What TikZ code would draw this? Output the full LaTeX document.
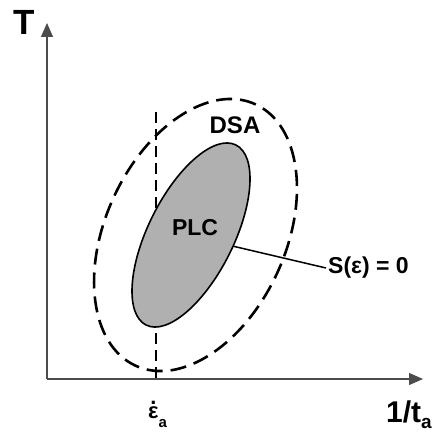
\documentclass[tikz,border=0pt]{standalone}
\usepackage{fontspec}
\setmainfont{Liberation Sans}
\usepackage{xcolor}
\usepackage{tikz}
\usetikzlibrary{calc, arrows.meta, positioning}

\definecolor{plcgray}{RGB}{176,176,176}
\newcommand{\epsdot}{{\ooalign{ε\cr\hidewidth\raisebox{0.62em}{.}\hidewidth\cr}}}
\newcommand{\lowsub}[2]{\raisebox{#1}{\fontsize{#2}{#2}\selectfont a}}

\begin{document}
\begin{tikzpicture}[>={Triangle[width=12pt,length=14pt]},
    axis/.style={draw=black!70, line width=1.3pt},
    dsaline/.style={line width=2.6pt, dash pattern=on 16pt off 8pt},
    rateline/.style={line width=2.6pt, dash pattern=on 11pt off 6pt},
    lbl/.style={font=\bfseries\fontsize{23}{23}\selectfont}]
    % Cadre de l'image
    \useasboundingbox (0,0) rectangle (438pt,432pt);
    \begin{scope}[x=1pt, y=1pt]
    % Axes
    \coordinate (O) at (47,53);
    \coordinate (ytop) at (47,409);
    \coordinate (xend) at (423,53);
    \draw[axis, ->] (O) -- (ytop);
    \draw[axis, ->] (O) -- (xend);
    \node[font=\bfseries\fontsize{35}{35}\selectfont] (T) at (24,410) {T};
    \node[font=\bfseries\fontsize{30}{30}\selectfont, anchor=base west, inner sep=0pt] (ta) at (386,10) {1/t\lowsub{-0.2em}{19}};
    \node[font=\bfseries\fontsize{22}{22}\selectfont, anchor=base west, inner sep=0pt] (epsa) at (148,14) {\epsdot\lowsub{-0.42em}{15}};
    % Ligne verticale en pointillés
    \coordinate (ratetop) at (156,320);
    \coordinate (ratebot) at (156,53);
    \draw[rateline] (ratetop) -- (ratebot);
    % Domaine PLC (rempli) et domaine DSA (pointillés)
    \coordinate (plc) at (191,197);
    \coordinate (dsa) at (195.5,197);
    \draw[fill=plcgray, line width=1.6pt, rotate around={63.5:(plc)}] (plc) ellipse [x radius=100.6, y radius=42.8];
    \draw[dsaline, rotate around={65.4:(dsa)}] (dsa) ellipse [x radius=143.8, y radius=90.1];
    \path[rotate around={63.5:(plc)}] (plc) ++(-85:100.6pt and 42.8pt) coordinate (sedge);
    % Étiquettes
    \node[font=\bfseries\fontsize{24}{24}\selectfont] (dsalbl) at (235,307) {DSA};
    \node[lbl] (plclbl) at (195,204) {PLC};
    \node[lbl, anchor=west, inner sep=2pt] (slbl) at (326,164) {S(ε) = 0};
    \draw[line width=1.5pt] (sedge) -- (slbl.west);
    \end{scope}
\end{tikzpicture}
\end{document}
